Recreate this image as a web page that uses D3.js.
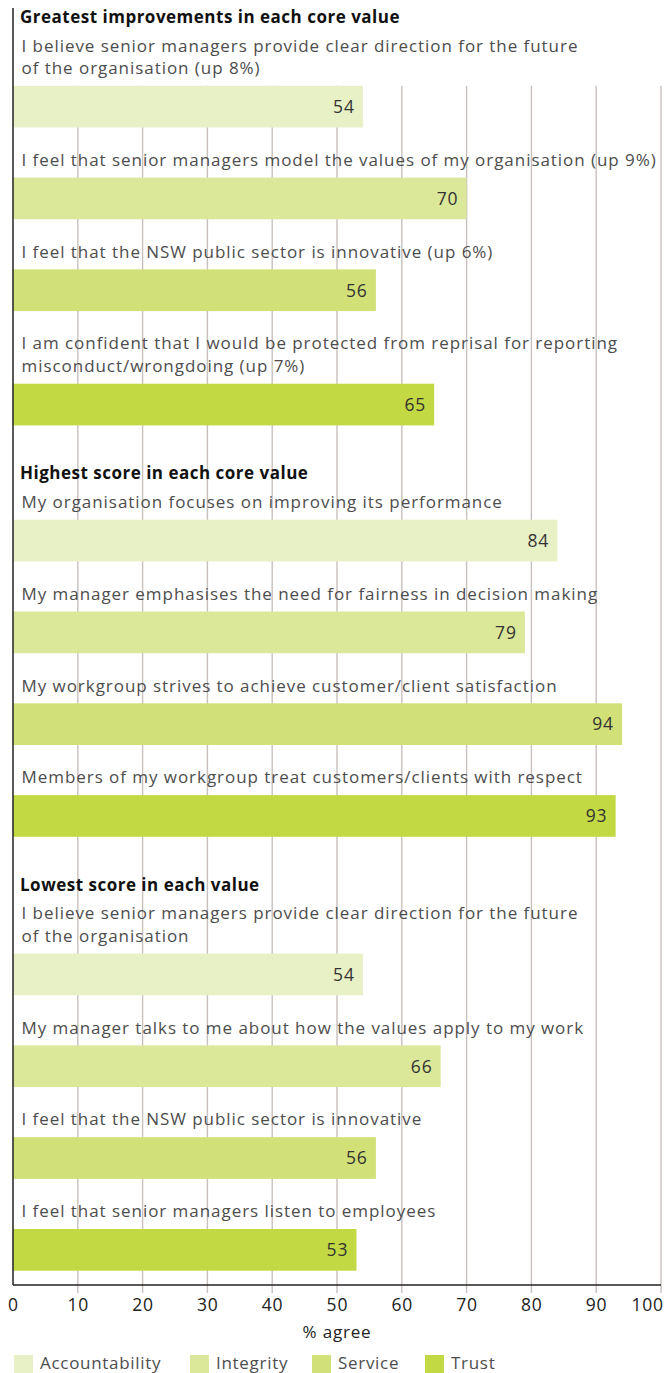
<!DOCTYPE html>
<html>
<head>
<meta charset="utf-8">
<script src="https://cdn.jsdelivr.net/npm/d3@7/dist/d3.min.js"></script>
<style>
  html, body { margin: 0; padding: 0; background: #fff; }
  svg { display: block; font-family: "Open Sans", sans-serif; }
</style>
</head>
<body>
<svg id="chart" width="667" height="1373"></svg>
<script>
// ---- data ----
const sectionTitles = [
  "Greatest improvements in each core value",
  "Highest score in each core value",
  "Lowest score in each value"
];
const categories = [
  ["I believe senior managers provide clear direction for the future", "of the organisation (up 8%)"],
  ["I feel that senior managers model the values of my organisation (up 9%)"],
  ["I feel that the NSW public sector is innovative (up 6%)"],
  ["I am confident that I would be protected from reprisal for reporting", "misconduct/wrongdoing (up 7%)"],
  ["My organisation focuses on improving its performance"],
  ["My manager emphasises the need for fairness in decision making"],
  ["My workgroup strives to achieve customer/client satisfaction"],
  ["Members of my workgroup treat customers/clients with respect"],
  ["I believe senior managers provide clear direction for the future", "of the organisation"],
  ["My manager talks to me about how the values apply to my work"],
  ["I feel that the NSW public sector is innovative"],
  ["I feel that senior managers listen to employees"]
];
const sectionOf = [0,0,0,0,1,1,1,1,2,2,2,2];
const coreValues = ["Accountability","Integrity","Service","Trust"];
const coreOf = ["Accountability","Integrity","Service","Trust","Accountability","Integrity","Service","Trust","Accountability","Integrity","Service","Trust"];
const values = [54,70,56,65,84,79,94,93,54,66,56,53];
const tickValues = [0,10,20,30,40,50,60,70,80,90,100];
const axisTitle = "% agree";
const colors = ["#e8f0c5","#dbe799","#d2e078","#c3d943"];

// ---- layout ----
const svg = d3.select("#chart");
const x = d3.scaleLinear().domain([0,100]).range([13, 661]);
const color = d3.scaleOrdinal().domain(coreValues).range(colors);

const barH = 41.7, lineH = 22.5, labelToBar = 11.8, barToLabel = 38.3,
      barToHeading = 54, headingToLabel = 28.5;

const rows = [];
const headings = [];
let y = 23; // first heading baseline
let prevSection = -1;
categories.forEach((lines, i) => {
  let firstBase;
  if (sectionOf[i] !== prevSection) {
    if (i > 0) y = y + barToHeading;
    headings.push({ text: sectionTitles[sectionOf[i]], y: y });
    firstBase = y + headingToLabel;
    prevSection = sectionOf[i];
  } else {
    firstBase = y + barToLabel;
  }
  const barTop = firstBase + (lines.length - 1) * lineH + labelToBar;
  rows.push({ i, lines, firstBase, barTop, value: values[i], core: coreOf[i] });
  y = barTop + barH;
});
const yScale = d3.scaleOrdinal().domain(rows.map(r => r.i)).range(rows.map(r => r.barTop));

const axisY = 1285;
const gridTop = rows[0].barTop;

// gridlines
svg.append("g").selectAll("line").data(tickValues.slice(1)).join("line")
  .attr("x1", d => x(d)).attr("x2", d => x(d))
  .attr("y1", gridTop).attr("y2", axisY + 8)
  .attr("stroke", "#c8c0bd").attr("stroke-width", 1.4);

// headings
svg.append("g").selectAll("text").data(headings).join("text")
  .attr("x", 20).attr("y", d => d.y)
  .attr("font-size", 17).attr("font-weight", 700).attr("fill", "#111")
  .attr("letter-spacing", 0.5)
  .text(d => d.text);

// category labels
const lab = svg.append("g");
rows.forEach(r => {
  r.lines.forEach((ln, k) => {
    lab.append("text")
      .attr("x", 21.5).attr("y", r.firstBase + k * lineH)
      .attr("font-size", 17).attr("fill", "#4d4d4d")
      .attr("letter-spacing", 0.95)
      .text(ln);
  });
});

// bars
svg.append("g").selectAll("rect").data(rows).join("rect")
  .attr("x", x(0)).attr("y", d => yScale(d.i))
  .attr("width", d => x(d.value) - x(0)).attr("height", barH)
  .attr("fill", d => color(d.core));

// value labels
svg.append("g").selectAll("text").data(rows).join("text")
  .attr("x", d => x(d.value) - 9 + 0.8).attr("y", d => yScale(d.i) + barH / 2 + 6.3)
  .attr("text-anchor", "end").attr("font-size", 17.5).attr("fill", "#333")
  .attr("letter-spacing", 0.8)
  .text(d => d.value);

// axes lines
svg.append("line").attr("x1", x(0)).attr("x2", x(100)).attr("y1", axisY).attr("y2", axisY)
  .attr("stroke", "#222").attr("stroke-width", 1.5);
svg.append("line").attr("x1", x(0)).attr("x2", x(0)).attr("y1", 8).attr("y2", axisY)
  .attr("stroke", "#222").attr("stroke-width", 1.5);

// tick labels
svg.append("g").selectAll("text").data(tickValues).join("text")
  .attr("x", (d, i) => i === tickValues.length - 1 ? x(d) + 2.8 : x(d) + 0.4)
  .attr("y", 1311)
  .attr("text-anchor", (d, i) => i === tickValues.length - 1 ? "end" : "middle")
  .attr("font-size", 17.5).attr("fill", "#222")
  .attr("letter-spacing", 0.8)
  .text(d => d);

// axis title
svg.append("text").attr("x", (x(0) + x(100)) / 2).attr("y", 1338)
  .attr("text-anchor", "middle").attr("font-size", 17).attr("fill", "#222")
  .attr("letter-spacing", 0.8)
  .text(axisTitle);

// legend
const legendX = [14, 190, 312, 425];
const lg = svg.append("g").selectAll("g").data(coreValues).join("g")
  .attr("transform", (d, i) => `translate(${legendX[i]},1355)`);
lg.append("rect").attr("width", 19).attr("height", 18).attr("fill", d => color(d));
lg.append("text").attr("x", 26).attr("y", 13.5).attr("font-size", 17).attr("fill", "#4d4d4d")
  .attr("letter-spacing", 0.7)
  .text(d => d);
</script>
</body>
</html>
